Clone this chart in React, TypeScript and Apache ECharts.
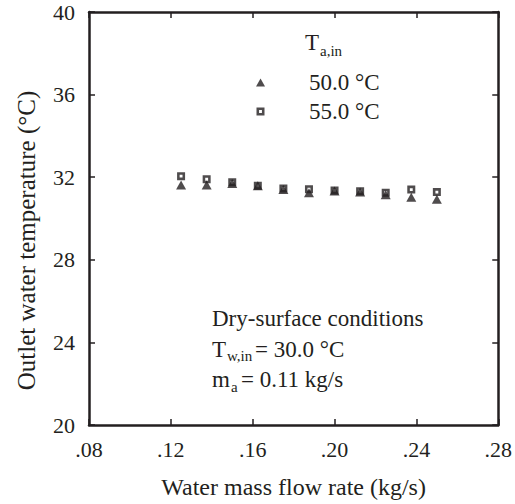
import React, { useEffect, useRef } from "react";
import * as echarts from "echarts";

const flowRates = [0.125, 0.1375, 0.15, 0.1625, 0.175, 0.1875, 0.2, 0.2125, 0.225, 0.2375, 0.25];
const temp50 = [31.62, 31.62, 31.7, 31.58, 31.4, 31.25, 31.33, 31.28, 31.15, 31.03, 30.93];
const temp55 = [32.05, 31.9, 31.75, 31.58, 31.45, 31.42, 31.36, 31.32, 31.25, 31.4, 31.28];
const seriesNames = ["50.0 °C", "55.0 °C"];
const xTicks = { min: 0.08, max: 0.28, interval: 0.04 };
const yTicks = { min: 20, max: 40, interval: 4 };

const FONT = "Liberation Serif";
const INK = "#231f20";
const HOLLOW_SQUARE = "path://M0,0H10V10H0Z M3.2,3.2V6.8H6.8V3.2Z";

export default function App() {
  const ref = useRef<HTMLDivElement>(null);
  useEffect(() => {
    if (!ref.current) return;
    const chart = echarts.init(ref.current, undefined, { renderer: "svg" });
    const axisLine = { show: true, onZero: false, lineStyle: { color: INK, width: 2.5 } };
    const axisTick = { show: true, inside: true, length: 6, lineStyle: { color: INK, width: 1.5 } };
    const text = (x: number, y: number, t: string, size: number) => ({
      type: "text",
      x,
      y,
      style: { text: t, fontFamily: FONT, fontSize: size, fill: INK, verticalAlign: "middle", align: "left" },
    });
    chart.setOption({
      animation: false,
      backgroundColor: "#fff",
      grid: { left: 89, right: 14, top: 12, bottom: 79, containLabel: false },
      xAxis: [
        {
          type: "value",
          ...xTicks,
          position: "bottom",
          axisLine,
          axisTick,
          splitLine: { show: false },
          axisLabel: {
            color: INK,
            fontFamily: FONT,
            fontSize: 22,
            margin: 13,
            formatter: (v: number) => v.toFixed(2).replace(/^0/, ""),
          },
          name: "Water mass flow rate (kg/s)",
          nameLocation: "middle",
          nameGap: 50,
          nameTextStyle: { color: INK, fontFamily: FONT, fontSize: 24 },
        },
        {
          type: "value",
          ...xTicks,
          position: "top",
          axisLine,
          axisTick,
          splitLine: { show: false },
          axisLabel: { show: false },
        },
      ],
      yAxis: [
        {
          type: "value",
          ...yTicks,
          position: "left",
          axisLine,
          axisTick,
          splitLine: { show: false },
          axisLabel: { color: INK, fontFamily: FONT, fontSize: 22, margin: 14 },
          name: "Outlet water temperature (°C)",
          nameLocation: "middle",
          nameGap: 50,
          nameTextStyle: { color: INK, fontFamily: FONT, fontSize: 25, padding: [0, 44, 0, 0] },
        },
        {
          type: "value",
          ...yTicks,
          position: "right",
          axisLine,
          axisTick,
          splitLine: { show: false },
          axisLabel: { show: false },
        },
      ],
      legend: {
        orient: "vertical",
        left: 256,
        top: 71,
        padding: 0,
        itemWidth: 9,
        itemHeight: 8,
        itemGap: 6,
        data: seriesNames,
        textStyle: { color: INK, fontFamily: FONT, fontSize: 23, padding: [0, 0, 0, 39] },
      },
      series: [
        {
          name: seriesNames[0],
          type: "scatter",
          symbol: "triangle",
          symbolSize: [10, 9],
          itemStyle: { color: INK },
          data: flowRates.map((x, i) => [x, temp50[i]]),
          z: 2,
        },
        {
          name: seriesNames[1],
          type: "scatter",
          symbol: HOLLOW_SQUARE,
          symbolSize: 8,
          itemStyle: { color: INK },
          data: flowRates.map((x, i) => [x, temp55[i]]),
          z: 3,
        },
      ],
      graphic: [
        text(305, 42, "T", 23),
        text(320, 51, "a,in", 15),
        text(212, 318, "Dry-surface conditions", 23),
        text(212, 349, "T", 23),
        text(227, 356, "w,in", 15),
        text(255, 349, "= 30.0 °C", 23),
        text(212, 379, "m", 23),
        text(231, 387, "a", 15),
        text(241, 379, "= 0.11 kg/s", 23),
      ],
    });
    return () => chart.dispose();
  }, []);
  return <div ref={ref} style={{ width: 515, height: 504, position: "absolute", left: 0, top: 0 }} />;
}
